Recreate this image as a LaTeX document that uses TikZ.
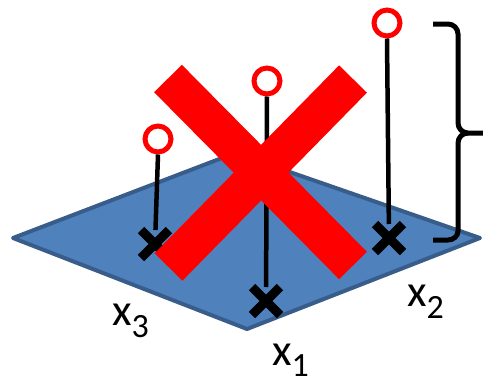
\documentclass[tikz,border=0pt]{standalone}
\usepackage{fontspec}
\setmainfont{Carlito}
\usetikzlibrary{shapes.misc}
\newcommand{\xsub}[2]{x\raisebox{-#2pt}{\fontsize{34}{34}\selectfont #1}}

\begin{document}
\begin{tikzpicture}[x=1pt,y=-1pt,
    plane/.style={fill={rgb,255:red,79;green,129;blue,189},draw={rgb,255:red,56;green,93;blue,138},line width=4pt,line join=round},
    ring/.style={circle,draw=red,fill=white,line width=5pt,minimum size=26pt,inner sep=0pt},
    xmark/.style={cross out,draw=black,line width=9pt,minimum size=19pt,inner sep=0pt},
    stem/.style={line width=4.5pt},
    bigx/.style={red,line width=39pt},
    lbl/.style={font=\fontsize{45}{45}\selectfont,inner sep=0pt,anchor=base west}]
    \useasboundingbox (0,0) rectangle (483,383);
    % the plane
    \draw[plane] (13,238) -- (235,153) -- (480,238) -- (247,329) -- cycle;
    % points on the plane and their values
    \node[xmark] (m3) at (155,244) {};
    \node[xmark] (m1) at (266,301) {};
    \node[xmark] (m2) at (389,238) {};
    \node[ring] (c3) at (158,139) {};
    \node[ring] (c1) at (267,81) {};
    \node[ring] (c2) at (387,23) {};
    \draw[stem] (c3.south) -- (m3);
    \draw[stem] (c1.south) -- (m1);
    \draw[stem] (c2.south) -- (m2);
    % brace
    \draw[line width=5pt] (433,24) -- (448,24) to[out=0,in=90] (458,34) -- (458,123)
        to[out=-90,in=180] (468,133) -- (486,133);
    \draw[line width=5pt] (468,133) to[out=180,in=90] (458,143) -- (458,231)
        to[out=-90,in=0] (448,240) -- (433,240);
    % the cross
    \draw[bigx] (168,78.5) -- (353,265.5);
    \draw[bigx] (353,79) -- (168.5,267);
    % labels
    \node[lbl] (x3) at (112,325) {\xsub{3}{12}};
    \node[lbl] (x1) at (272,365) {\xsub{1}{11}};
    \node[lbl] (x2) at (407,306) {\xsub{2}{12}};
\end{tikzpicture}
\end{document}
